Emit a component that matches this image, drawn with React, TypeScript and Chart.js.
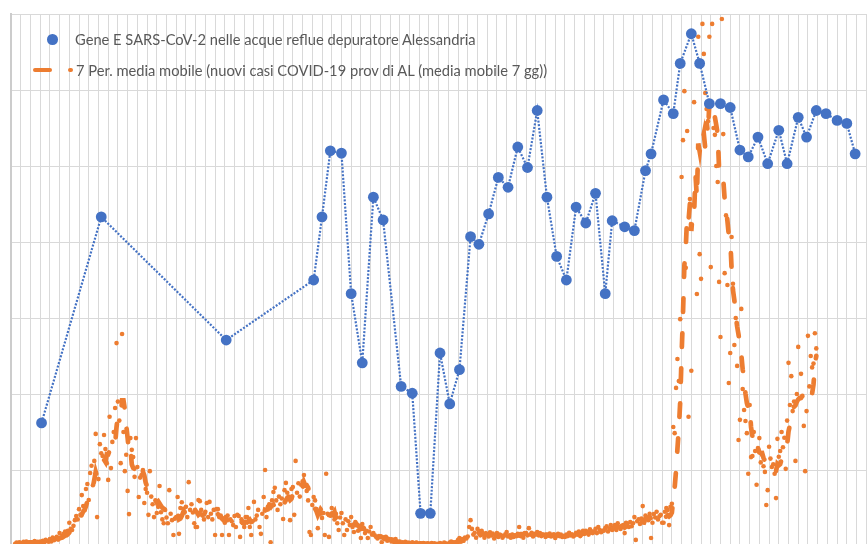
import React, { useEffect, useRef } from "react";
import { Chart, registerables } from "chart.js";

Chart.register(...registerables);

// ---- Data (x = days since 2020-08-31) ----
const AXIS_DAY_MIN = 0;
const AXIS_DAY_MAX = 630;
const AXIS_DAY_STEP = 7; // weekly vertical gridlines

const GENE_LABEL = "Gene E SARS-CoV-2 nelle acque reflue depuratore Alessandria";
const CASES_LABEL = "nuovi casi COVID-19 prov di AL (media mobile 7 gg)";
const MA_LABEL = "7 Per. media mobile (nuovi casi COVID-19 prov di AL (media mobile 7 gg))";

const geneDays = [
  22, 65, 155, 218, 224, 230, 238, 245, 253, 261, 268, 281, 289, 295, 302, 309, 316, 323,
  331, 337, 344, 351, 358, 365, 372, 379, 386, 393, 400, 407, 414, 421, 428, 433, 442, 449,
  457, 461, 470, 477, 482, 490, 496, 503, 511, 518, 525, 531, 538, 545, 553, 559, 567, 573,
  580, 587, 595, 602, 608,
];
const geneValues = [
  16.2, 43.3, 27.1, 35.0, 43.3, 52.0, 51.7, 33.2, 24.1, 45.9, 42.9, 21.0, 20.1, 4.3, 4.3,
  25.4, 18.7, 23.2, 40.7, 39.7, 43.7, 48.5, 47.2, 52.5, 49.8, 57.3, 45.9, 38.1, 35.0, 44.6,
  42.5, 46.4, 33.2, 42.8, 42.0, 41.5, 49.4, 51.6, 58.7, 56.9, 63.5, 67.4, 63.5, 58.2, 58.2,
  57.7, 52.1, 51.2, 53.8, 50.3, 54.7, 50.3, 56.4, 53.8, 57.3, 56.9, 56.0, 55.6, 51.6,
];
const geneAxis = { min: 0, max: 70, step: 10 };

const casesFirstDay = 3;
const dailyCases = [
  6, 9, 7, 10,
  8, 5, 11, 9, 12, 7, 10,
  10, 6, 9, 13, 8, 11, 9,
  12, 8, 14, 10, 16, 13, 11,
  18, 12, 22, 15, 20, 24, 17,
  34, 21, 27, 32, 38, 29, 40,
  61, 45, 42, 53, 68, 79, 70,
  97, 82, 134, 105, 95, 150, 163,
  121, 192, 211, 160, 224, 295, 76,
  176, 268, 244, 237, 292, 255, 218,
  174, 340, 205, 274, 300, 363, 534,
  380, 330, 218, 558, 300, 197, 240,
  145, 84, 284, 253, 234, 182, 284,
  208, 129, 180, 187, 200, 113, 150,
  140, 82, 197, 130, 110, 76, 120,
  87, 103, 158, 89, 70, 60, 95,
  75, 60, 147, 85, 68, 29, 72,
  76, 129, 32, 100, 115, 98, 88,
  103, 76, 168, 95, 110, 88, 60,
  50, 50, 121, 118, 95, 80, 70,
  90, 113, 76, 116, 85, 70, 95,
  29, 97, 97, 76, 80, 29, 70,
  61, 76, 80, 29, 70, 65, 55,
  79, 50, 82, 79, 24, 70, 60,
  50, 76, 76, 100, 50, 29, 65,
  116, 70, 80, 95, 50, 32, 85,
  129, 200, 76, 103, 110, 10, 120,
  142, 153, 120, 95, 130, 110, 125,
  71, 147, 166, 140, 130, 68, 150,
  155, 82, 224, 140, 165, 130, 161,
  170, 187, 160, 145, 120, 37, 29,
  108, 129, 120, 97, 47, 90, 85,
  74, 87, 29, 190, 85, 24, 80,
  100, 80, 70, 85, 60, 42, 75,
  87, 60, 29, 70, 42, 65, 55,
  76, 50, 37, 63, 55, 40, 48,
  21, 58, 45, 34, 40, 21, 38,
  50, 30, 34, 28, 24, 20, 26,
  24, 10, 22, 18, 24, 14, 16,
  16, 12, 14, 10, 18, 9, 11,
  12, 8, 10, 6, 11, 7, 9,
  8, 5, 10, 7, 6, 9, 4,
  5, 7, 4, 8, 6, 3, 7,
  6, 4, 8, 5, 7, 3, 6,
  5, 8, 6, 4, 9, 7, 5,
  6, 9, 12, 8, 10, 7, 11,
  16, 21, 12, 18, 14, 22, 20,
  25, 50, 68, 45, 30, 35, 22,
  45, 34, 28, 40, 30, 22, 32,
  30, 25, 36, 28, 33, 20, 26,
  34, 24, 30, 28, 22, 26, 31,
  37, 25, 28, 22, 30, 24, 27,
  28, 32, 50, 26, 30, 22, 34,
  34, 28, 47, 30, 35, 25, 32,
  30, 37, 28, 34, 26, 31, 29,
  24, 30, 27, 33, 25, 29, 31,
  21, 28, 32, 26, 30, 24, 27,
  24, 30, 26, 35, 28, 31, 25,
  28, 35, 30, 38, 26, 33, 40,
  32, 40, 36, 30, 44, 38, 34,
  38, 45, 34, 50, 42, 36, 40,
  40, 47, 52, 38, 45, 55, 42,
  48, 55, 42, 60, 50, 45, 53,
  55, 34, 61, 58, 50, 63, 52,
  60, 76, 16, 65, 70, 58, 72,
  105, 61, 80, 72, 68, 85, 21,
  61, 84, 75, 90, 70, 78, 82,
  61, 61, 90, 100, 95, 55, 103,
  111, 313, 297, 416, 492, 434, 597,
  971, 1068, 1197, 732, 1092, 340, 913,
  461, 1420, 1168, 1450, 663, 1340, 768,
  703, 1374, 1295, 1192, 1150, 1118, 1340,
  734, 1374, 1100, 1082, 1000, 958, 695,
  550, 1387, 1084, 718, 870, 687, 429,
  508, 813, 690, 529, 600, 474, 279,
  332, 624, 413, 358, 329, 297, 190,
  371, 234, 237, 300, 250, 161, 258,
  284, 220, 240, 210, 195, 108, 147,
  261, 230, 208, 215, 190, 126, 282,
  235, 250, 300, 260, 285, 203, 330,
  482, 371, 447, 355, 380, 224, 400,
  524, 390, 453, 395, 316, 197, 355,
  553, 420, 500, 470, 480, 560, 520,
];
const casesAxis = { min: 0, max: 1400 };
const MA_PERIOD = 7;

const BLUE = "#4472C4";
const ORANGE = "#ED7D31";
const GRID = "#d9d9d9";
const TEXT = "#595959";
const FONT = "Lato, 'Open Sans', sans-serif";

export default function App() {
  const canvasRef = useRef<HTMLCanvasElement | null>(null);

  useEffect(() => {
    const canvas = canvasRef.current;
    if (!canvas) return;

    const genePoints = geneDays.map((d, i) => ({ x: d, y: geneValues[i] }));
    const casePoints = dailyCases.map((v, i) => ({ x: casesFirstDay + i, y: v }));
    const maPoints: { x: number; y: number }[] = [];
    for (let i = MA_PERIOD - 1; i < dailyCases.length; i++) {
      let s = 0;
      for (let k = i - MA_PERIOD + 1; k <= i; k++) s += dailyCases[k];
      maPoints.push({ x: casesFirstDay + i, y: s / MA_PERIOD });
    }

    const chart = new Chart(canvas, {
      type: "line",
      data: {
        datasets: [
          {
            label: GENE_LABEL,
            data: genePoints,
            yAxisID: "y",
            borderColor: BLUE,
            backgroundColor: BLUE,
            borderWidth: 2.2,
            borderDash: [2, 1.6],
            pointRadius: 5.4,
            pointBorderWidth: 0,
            pointBackgroundColor: BLUE,
            pointBorderColor: BLUE,
            tension: 0,
            order: 0,
          },
          {
            label: MA_LABEL,
            data: maPoints,
            yAxisID: "y1",
            borderColor: ORANGE,
            backgroundColor: ORANGE,
            borderWidth: 4.7,
            borderDash: [13.5, 21.5],
            borderCapStyle: "round",
            pointRadius: 0,
            tension: 0,
            clip: 0,
            order: 1,
          },
          {
            label: CASES_LABEL,
            data: casePoints,
            yAxisID: "y1",
            showLine: false,
            borderColor: ORANGE,
            backgroundColor: ORANGE,
            pointRadius: 2.3,
            pointBorderWidth: 0,
            pointBackgroundColor: ORANGE,
            clip: 0,
            order: 2,
          },
        ],
      },
      options: {
        animation: false,
        responsive: false,
        devicePixelRatio: 1,
        layout: { padding: { left: 11, top: 14, right: 14.3, bottom: 14 } },
        plugins: { legend: { display: false }, tooltip: { enabled: false } },
        events: [],
        scales: {
          x: {
            type: "linear",
            min: AXIS_DAY_MIN,
            max: AXIS_DAY_MAX,
            ticks: { display: false, stepSize: AXIS_DAY_STEP, autoSkip: false },
            grid: { color: GRID, lineWidth: 1, drawTicks: false },
            border: { display: false },
          },
          y: {
            type: "linear",
            position: "left",
            min: geneAxis.min,
            max: geneAxis.max,
            ticks: { display: false, stepSize: geneAxis.step },
            grid: { color: GRID, lineWidth: 1, drawTicks: false },
            border: { display: true, color: "#cccccc", width: 2 },
          },
          y1: {
            type: "linear",
            position: "right",
            display: false,
            min: casesAxis.min,
            max: casesAxis.max,
            grid: { display: false },
          },
        },
      },
    });
    return () => chart.destroy();
  }, []);

  return (
    <div
      style={{
        position: "absolute",
        left: 0,
        top: 0,
        width: 867,
        height: 544,
        overflow: "hidden",
        background: "#ffffff",
      }}
    >
      <canvas ref={canvasRef} width={900} height={560} style={{ display: "block", width: 900, height: 560 }} />
      <div style={{ position: "absolute", left: 47, top: 34, width: 10.6, height: 10.6, borderRadius: "50%", background: BLUE }} />
      <div
        style={{
          position: "absolute",
          left: 75,
          top: 31.5,
          fontFamily: FONT,
          fontSize: 14.7,
          lineHeight: "14px",
          color: TEXT,
          whiteSpace: "nowrap",
        }}
      >
        {GENE_LABEL}
      </div>
      <div style={{ position: "absolute", left: 33, top: 67.7, width: 19, height: 4.6, borderRadius: 2.3, background: ORANGE }} />
      <div style={{ position: "absolute", left: 68, top: 67.7, width: 4.6, height: 4.6, borderRadius: "50%", background: ORANGE }} />
      <div
        style={{
          position: "absolute",
          left: 76,
          top: 62.5,
          fontFamily: FONT,
          fontSize: 14.7,
          lineHeight: "14px",
          color: TEXT,
          whiteSpace: "nowrap",
        }}
      >
        {MA_LABEL}
      </div>
    </div>
  );
}
